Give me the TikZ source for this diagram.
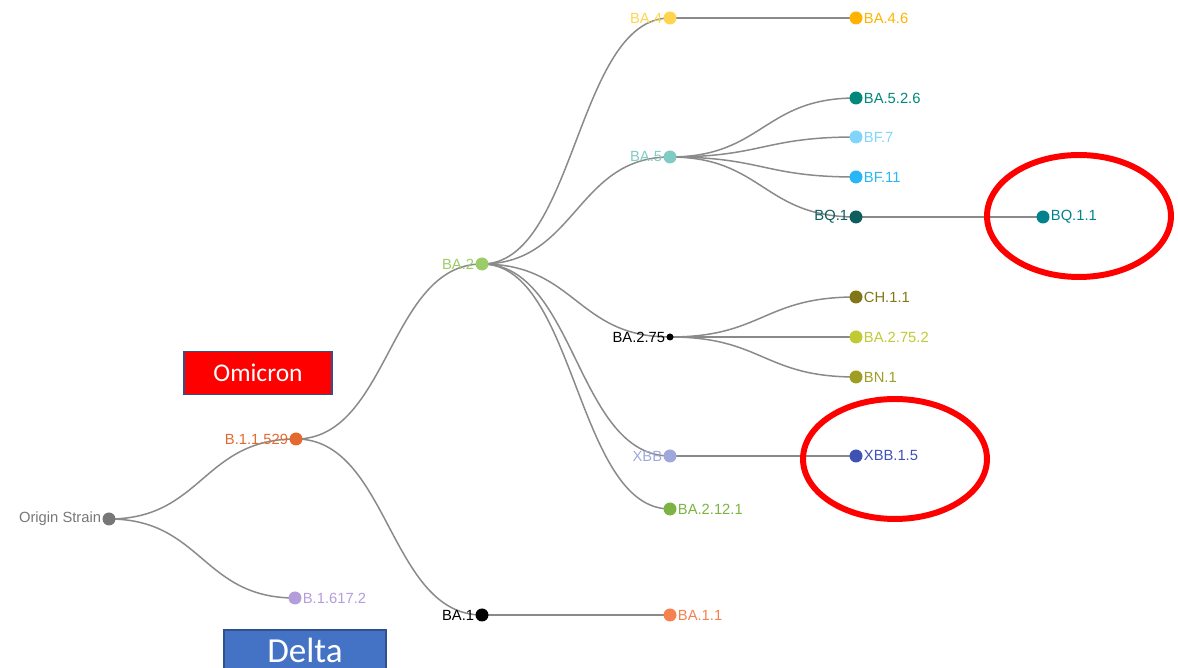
\documentclass[tikz,border=0pt]{standalone}
\usepackage{fontspec}
\setmainfont{Liberation Sans}
\newfontfamily\boxfont{Carlito}
\usepackage{tikz}
\usetikzlibrary{calc,backgrounds}

\definecolor{linkgray}{HTML}{8A8A8A}
\definecolor{cOrigin}{HTML}{777777}
\definecolor{cBoneone}{HTML}{E4692F}
\definecolor{cDelta}{HTML}{B39DDB}
\definecolor{cBAone}{HTML}{000000}
\definecolor{cBAoneone}{HTML}{F4814E}
\definecolor{cBAtwo}{HTML}{9CCC65}
\definecolor{cBAfour}{HTML}{FFD54F}
\definecolor{cBAfoursix}{HTML}{FFB300}
\definecolor{cBAfive}{HTML}{80CBC4}
\definecolor{cBAfivetwo}{HTML}{00897B}
\definecolor{cBFseven}{HTML}{81D4FA}
\definecolor{cBFeleven}{HTML}{29B6F6}
\definecolor{cBQone}{HTML}{0E5E5E}
\definecolor{cBQoneone}{HTML}{00838F}
\definecolor{cCHone}{HTML}{827717}
\definecolor{cBAtwoseven}{HTML}{C0CA33}
\definecolor{cBNone}{HTML}{9E9D24}
\definecolor{cXBB}{HTML}{9FA8DA}
\definecolor{cXBBone}{HTML}{3F51B5}
\definecolor{cBAtwelve}{HTML}{7CB342}
\definecolor{tagborder}{HTML}{2F528F}
\definecolor{deltablue}{HTML}{4472C4}

\tikzset{
  dot/.style={circle,fill=#1,inner sep=0pt,minimum size=0.26cm},
  lbl/.style={inner sep=0.4pt,font=\fontsize{8.4}{10}\selectfont},
  link/.style={draw=linkgray,line width=0.85pt},
  ring/.style={draw=red,line width=3.4pt},
  tag/.style={draw=tagborder,line width=1pt,text=white,inner sep=0pt}
}

% tree link: horizontal S-curve between two dots
\newcommand{\branch}[2]{%
  \draw[link] let \p1=(#1.center), \p2=(#2.center) in
    (\p1) .. controls ({0.5*\x1+0.5*\x2},\y1) and ({0.5*\x1+0.5*\x2},\y2) .. (\p2);}

\begin{document}
\begin{tikzpicture}[x=0.02cm,y=-0.02cm]
\useasboundingbox (0,0) rectangle (1178,668);

% strains
\node[dot=cOrigin,label={[lbl,text=cOrigin]left:Origin Strain}] (origin) at (109,519) {};
\node[dot=cBoneone,label={[lbl,text=cBoneone]left:B.1.1.529}] (b11529) at (296,439) {};
\node[dot=cDelta,label={[lbl,text=cDelta]right:B.1.617.2}] (b16172) at (295,598) {};
\node[dot=cBAone,label={[lbl,text=cBAone]left:BA.1}] (ba1) at (482,615) {};
\node[dot=cBAoneone,label={[lbl,text=cBAoneone]right:BA.1.1}] (ba11) at (670,615) {};
\node[dot=cBAtwo,label={[lbl,text=cBAtwo]left:BA.2}] (ba2) at (482,264) {};
\node[dot=cBAfour,label={[lbl,text=cBAfour]left:BA.4}] (ba4) at (670,18) {};
\node[dot=cBAfoursix,label={[lbl,text=cBAfoursix]right:BA.4.6}] (ba46) at (856,18) {};
\node[dot=cBAfive,label={[lbl,text=cBAfive]left:BA.5}] (ba5) at (670,157) {};
\node[dot=cBAfivetwo,label={[lbl,text=cBAfivetwo]right:BA.5.2.6}] (ba526) at (856,98) {};
\node[dot=cBFseven,label={[lbl,text=cBFseven]right:BF.7}] (bf7) at (856,137) {};
\node[dot=cBFeleven,label={[lbl,text=cBFeleven]right:BF.11}] (bf11) at (856,177) {};
\node[dot=cBQone,label={[lbl,text=cBQone]left:BQ.1}] (bq1) at (856,217) {};
\node[dot=cBQoneone,label={[lbl,text=cBQoneone]right:BQ.1.1}] (bq11) at (1043,217) {};
\node[dot=black,minimum size=0.14cm,label={[lbl,text=black]left:BA.2.75}] (ba275) at (670,337) {};
\node[dot=cCHone,label={[lbl,text=cCHone]right:CH.1.1}] (ch11) at (856,297) {};
\node[dot=cBAtwoseven,label={[lbl,text=cBAtwoseven]right:BA.2.75.2}] (ba2752) at (856,337) {};
\node[dot=cBNone,label={[lbl,text=cBNone]right:BN.1}] (bn1) at (856,377) {};
\node[dot=cXBB,label={[lbl,text=cXBB]left:XBB}] (xbb) at (670,456) {};
\node[dot=cXBBone,label={[lbl,text=cXBBone]right:XBB.1.5}] (xbb15) at (856,456) {};
\node[dot=cBAtwelve,label={[lbl,text=cBAtwelve]right:BA.2.12.1}] (ba2121) at (670,509) {};

\begin{scope}[on background layer]
\branch{origin}{b11529}
\branch{origin}{b16172}
\branch{b11529}{ba2}
\branch{b11529}{ba1}
\branch{ba1}{ba11}
\branch{ba2}{ba4}
\branch{ba2}{ba5}
\branch{ba2}{ba275}
\branch{ba2}{xbb}
\branch{ba2}{ba2121}
\branch{ba4}{ba46}
\branch{ba5}{ba526}
\branch{ba5}{bf7}
\branch{ba5}{bf11}
\branch{ba5}{bq1}
\branch{bq1}{bq11}
\branch{ba275}{ch11}
\branch{ba275}{ba2752}
\branch{ba275}{bn1}
\branch{xbb}{xbb15}
\end{scope}

% highlights
\draw[ring] (1079,216) ellipse (1.84cm and 1.22cm);
\draw[ring] (895,459) ellipse (1.84cm and 1.20cm);

% lineage tags
\node[tag,fill=red,minimum width=2.96cm,minimum height=0.86cm,font=\boxfont\fontsize{14.5}{16}\selectfont] (omicron) at (258,373) {Omicron};
\node[tag,fill=deltablue,anchor=north,minimum width=3.24cm,minimum height=0.84cm,font=\boxfont\fontsize{20}{24}\selectfont] (delta) at (305,629) {Delta};
\end{tikzpicture}
\end{document}
